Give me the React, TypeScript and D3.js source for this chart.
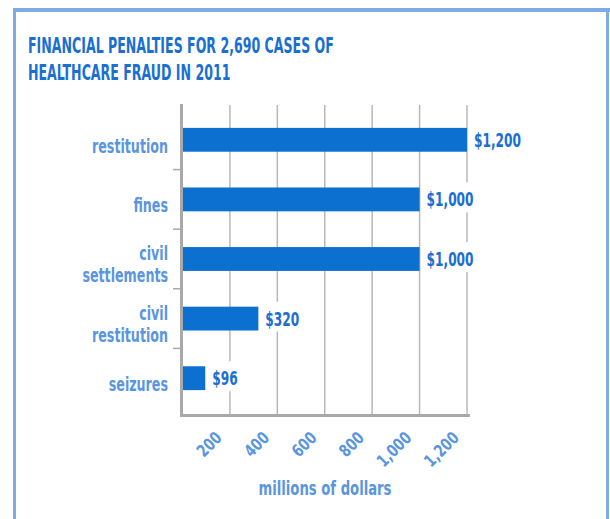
import React, { useEffect, useRef } from "react";
import * as d3 from "d3";

const titleLines = ["FINANCIAL PENALTIES FOR 2,690 CASES OF", "HEALTHCARE FRAUD IN 2011"];
const categories = ["restitution", "fines", "civil settlements", "civil restitution", "seizures"];
const categoryLines = [["restitution"], ["fines"], ["civil", "settlements"], ["civil", "restitution"], ["seizures"]];
const values = [1200, 1000, 1000, 320, 96];
const valueLabels = ["$1,200", "$1,000", "$1,000", "$320", "$96"];
const xTicks = [200, 400, 600, 800, 1000, 1200];
const xTickLabels = ["200", "400", "600", "800", "1,000", "1,200"];
const xAxisTitle = "millions of dollars";

const FONT = "'DejaVu Sans Condensed', 'Liberation Sans Narrow', Roboto, sans-serif";
const BAR = "#0b70cf";
const LIGHT = "#5a95e0";
const DARK = "#1a6fd2";

export default function App() {
  const ref = useRef<SVGSVGElement>(null);
  useEffect(() => {
    const svg = d3.select(ref.current);
    svg.selectAll("*").remove();

    const measure = (s: string, size: number, weight: string) => {
      const tt = svg.append("text").attr("font-family", FONT).attr("font-size", size)
        .attr("font-weight", weight).style("font-stretch", "condensed").text(s);
      const w = (tt.node() as SVGTextElement).getComputedTextLength();
      tt.remove();
      return w;
    };
    const fTitle = 306 / measure(titleLines[0], 22, "bold");
    const fCat = 76 / measure("restitution", 19, "bold");
    const fVal = 47 / measure("$1,200", 19, "bold");
    const fTick = 27 / measure("200", 17, "bold");
    const fAxis = 133 / measure(xAxisTitle, 19, "bold");

    const addText = (parent: any, tr: string, s: string, size: number, color: string, f: number, anchor = "start") => {
      const g = parent.append("g").attr("transform", `${tr} scale(${f},1)`);
      const tt = g.append("text").attr("x", 0).attr("y", 0).attr("text-anchor", anchor)
        .attr("font-family", FONT).attr("font-size", size).attr("font-weight", "bold")
        .attr("fill", color).style("font-stretch", "condensed").text(s);
      return (tt.node() as SVGTextElement).getComputedTextLength() * f;
    };

    // frame
    svg.append("rect").attr("x", 14.5).attr("y", 9.5).attr("width", 593).attr("height", 530)
      .attr("fill", "#fff").attr("stroke", "#80aae6").attr("stroke-width", 3);
    svg.append("line").attr("x1", 14).attr("x2", 610).attr("y1", 10).attr("y2", 10)
      .attr("stroke", "#80aae6").attr("stroke-width", 4);

    titleLines.forEach((l, i) => addText(svg, `translate(28,${53 + i * 27})`, l, 22, "#1a6fd2", fTitle));

    const x = d3.scaleLinear().domain([0, 1200]).range([182.5, 467]);
    const y = d3.scaleBand<string>().domain(categories).range([110, 408]).paddingInner(0.6).paddingOuter(0.3);
    const step = y.step();

    // gridlines
    svg.append("g").selectAll("line").data(xTicks).join("line")
      .attr("x1", d => x(d)).attr("x2", d => x(d)).attr("y1", 105).attr("y2", 414)
      .attr("stroke", "#b8b8b8").attr("stroke-width", 1.5);

    // bars
    svg.append("g").selectAll("rect").data(values).join("rect")
      .attr("x", x(0)).attr("y", (d, i) => y(categories[i])!)
      .attr("width", d => x(d) - x(0)).attr("height", y.bandwidth()).attr("fill", BAR);

    // value labels with white background
    const vg = svg.append("g");
    values.forEach((v, i) => {
      const cy = y(categories[i])! + y.bandwidth() / 2;
      const bg = vg.append("rect").attr("fill", "#fff");
      const w = addText(vg, `translate(${x(v) + 7},${cy + 7})`, valueLabels[i], 19, DARK, fVal);
      bg.attr("x", x(v) + 2).attr("y", y(categories[i])! - 5).attr("width", w + 9).attr("height", y.bandwidth() + 6);
    });

    // axes
    svg.append("line").attr("x1", 181.5).attr("x2", 181.5).attr("y1", 104).attr("y2", 417)
      .attr("stroke", "#a9a9a9").attr("stroke-width", 3);
    svg.append("line").attr("x1", 180).attr("x2", 470).attr("y1", 415.5).attr("y2", 415.5)
      .attr("stroke", "#a9a9a9").attr("stroke-width", 3);
    svg.append("g").selectAll("line").data(categories.slice(1)).join("line")
      .attr("x1", 173).attr("x2", 181).attr("y1", d => y(d)! - step * 0.3).attr("y2", d => y(d)! - step * 0.3)
      .attr("stroke", "#a9a9a9").attr("stroke-width", 1.5);

    // category labels
    categories.forEach((c, i) => {
      const cy = y(c)! + y.bandwidth() / 2;
      const lines = categoryLines[i];
      const base = lines.length === 1 ? cy + 13 : cy + 1;
      lines.forEach((l, j) => addText(svg, `translate(168,${base + j * 22})`, l, 19, LIGHT, fCat, "end"));
    });

    // x tick labels
    xTicks.forEach((d, i) => addText(svg, `translate(${x(d) - 7},439) rotate(-45)`, xTickLabels[i], 17, LIGHT, fTick, "end"));

    addText(svg, "translate(325,495)", xAxisTitle, 19, LIGHT, fAxis, "middle");
  }, []);
  return (
    <svg ref={ref} width={610} height={519} style={{ position: "absolute", left: 0, top: 0, display: "block" }} />
  );
}
